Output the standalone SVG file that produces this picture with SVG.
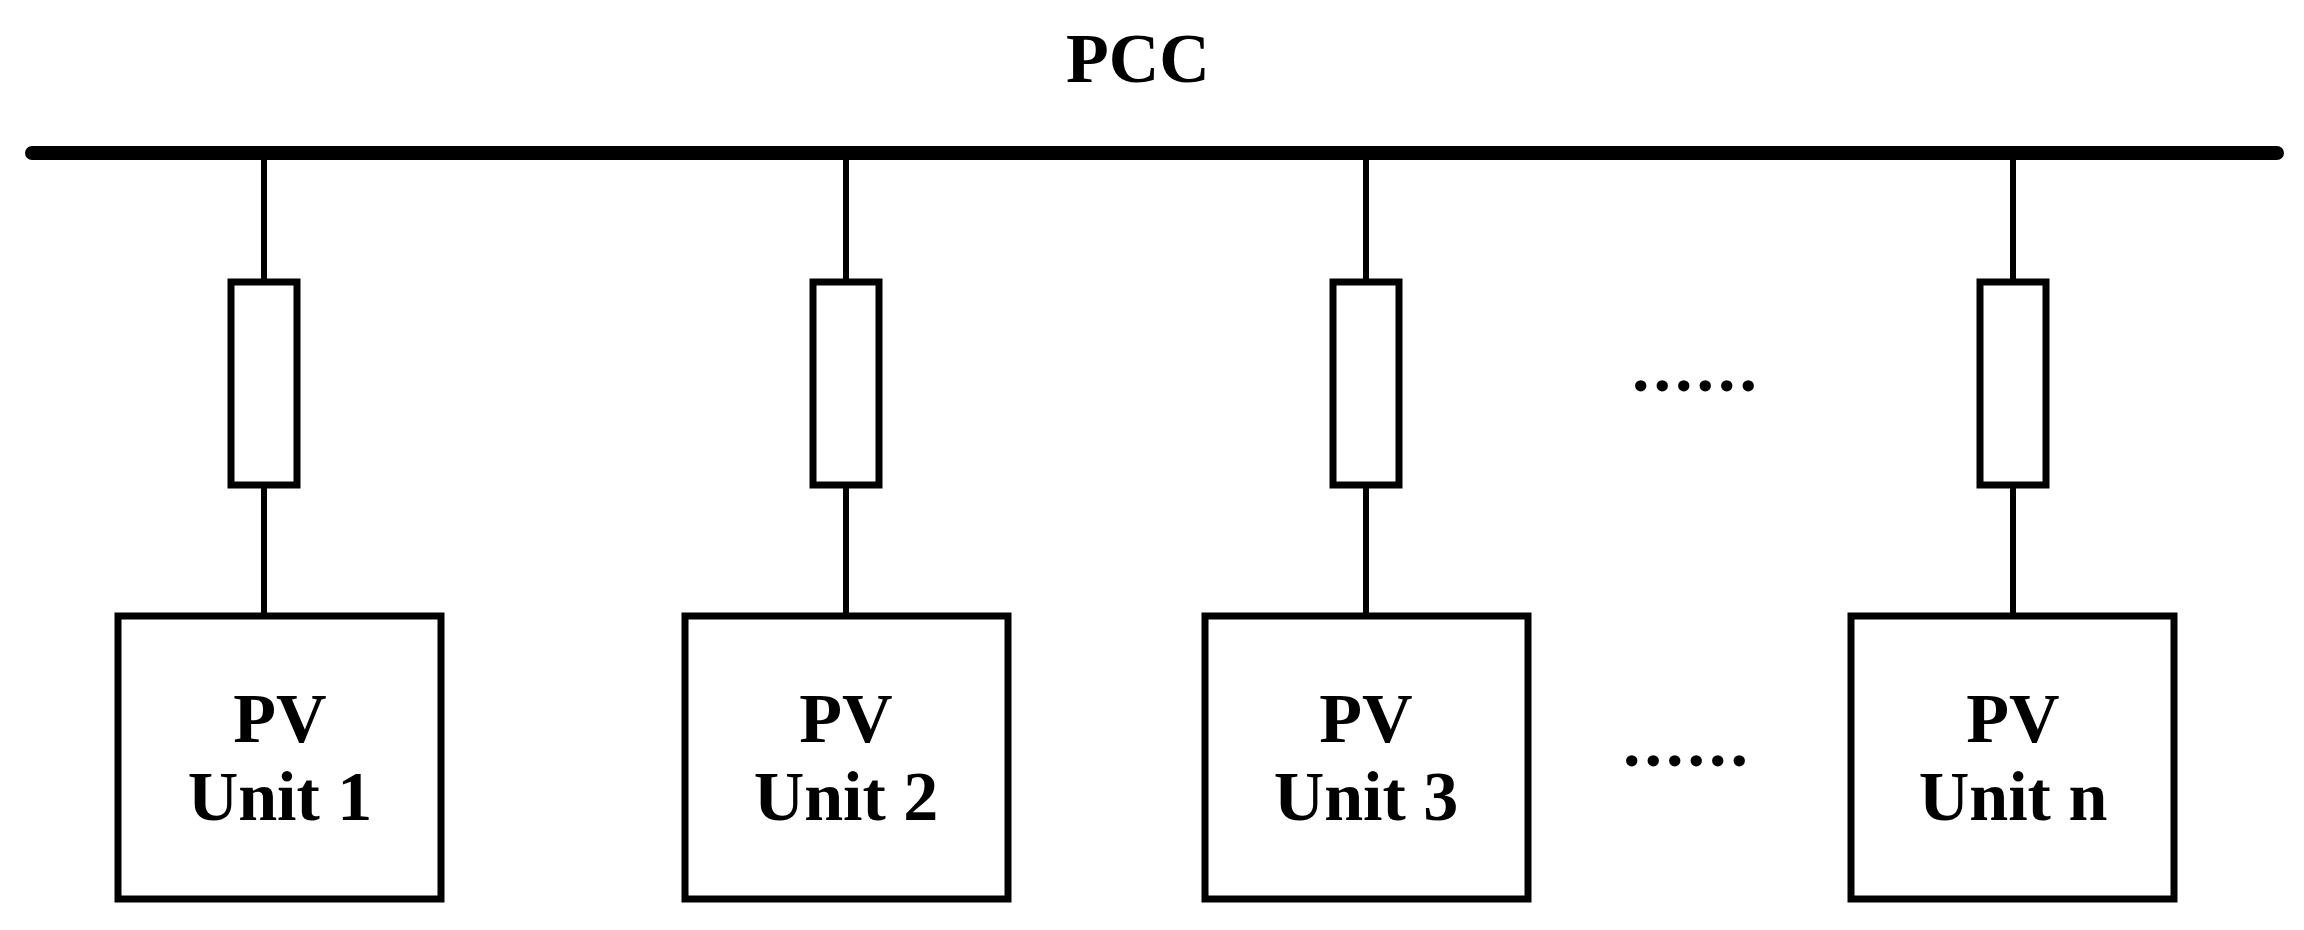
<svg xmlns="http://www.w3.org/2000/svg" width="2304" height="930" viewBox="0 0 2304 930">
<style>
.l{stroke:#000;stroke-width:6;fill:none}
.b{fill:#fff;stroke:#000;stroke-width:7}
.t{font-family:"Liberation Serif",serif;font-weight:bold;font-size:70px;text-anchor:middle;fill:#000}
.d{font-family:"Liberation Serif",serif;font-weight:bold;font-size:70px;letter-spacing:4px;fill:#000}
</style>
<rect width="2304" height="930" fill="#fff"/>
<text class="t" x="1138" y="82">PCC</text>
<g id="connectors">
<line x1="32" y1="153" x2="2277" y2="153" stroke="#000" stroke-width="14" stroke-linecap="round"/>
<line class="l" x1="264" y1="153" x2="264" y2="614"/>
<line class="l" x1="846" y1="153" x2="846" y2="614"/>
<line class="l" x1="1366" y1="153" x2="1366" y2="614"/>
<line class="l" x1="2013" y1="153" x2="2013" y2="614"/>
</g>
<g id="r1"><rect class="b" x="231" y="282" width="66" height="203"/></g>
<g id="r2"><rect class="b" x="813" y="282" width="66" height="203"/></g>
<g id="r3"><rect class="b" x="1333" y="282" width="66" height="203"/></g>
<g id="rn"><rect class="b" x="1980" y="282" width="66" height="203"/></g>
<g id="u1"><rect class="b" x="118" y="616" width="323" height="283"/><text class="t" x="280" y="742">PV</text><text class="t" x="280" y="820">Unit 1</text></g>
<g id="u2"><rect class="b" x="685" y="616" width="323" height="283"/><text class="t" x="846" y="742">PV</text><text class="t" x="846" y="820">Unit 2</text></g>
<g id="u3"><rect class="b" x="1205" y="616" width="323" height="283"/><text class="t" x="1366" y="742">PV</text><text class="t" x="1366" y="820">Unit 3</text></g>
<g id="un"><rect class="b" x="1851" y="616" width="323" height="283"/><text class="t" x="2013" y="742">PV</text><text class="t" x="2013" y="820">Unit n</text></g>
<text class="d" x="1632" y="391">......</text>
<text class="d" x="1623" y="766">......</text>
</svg>
